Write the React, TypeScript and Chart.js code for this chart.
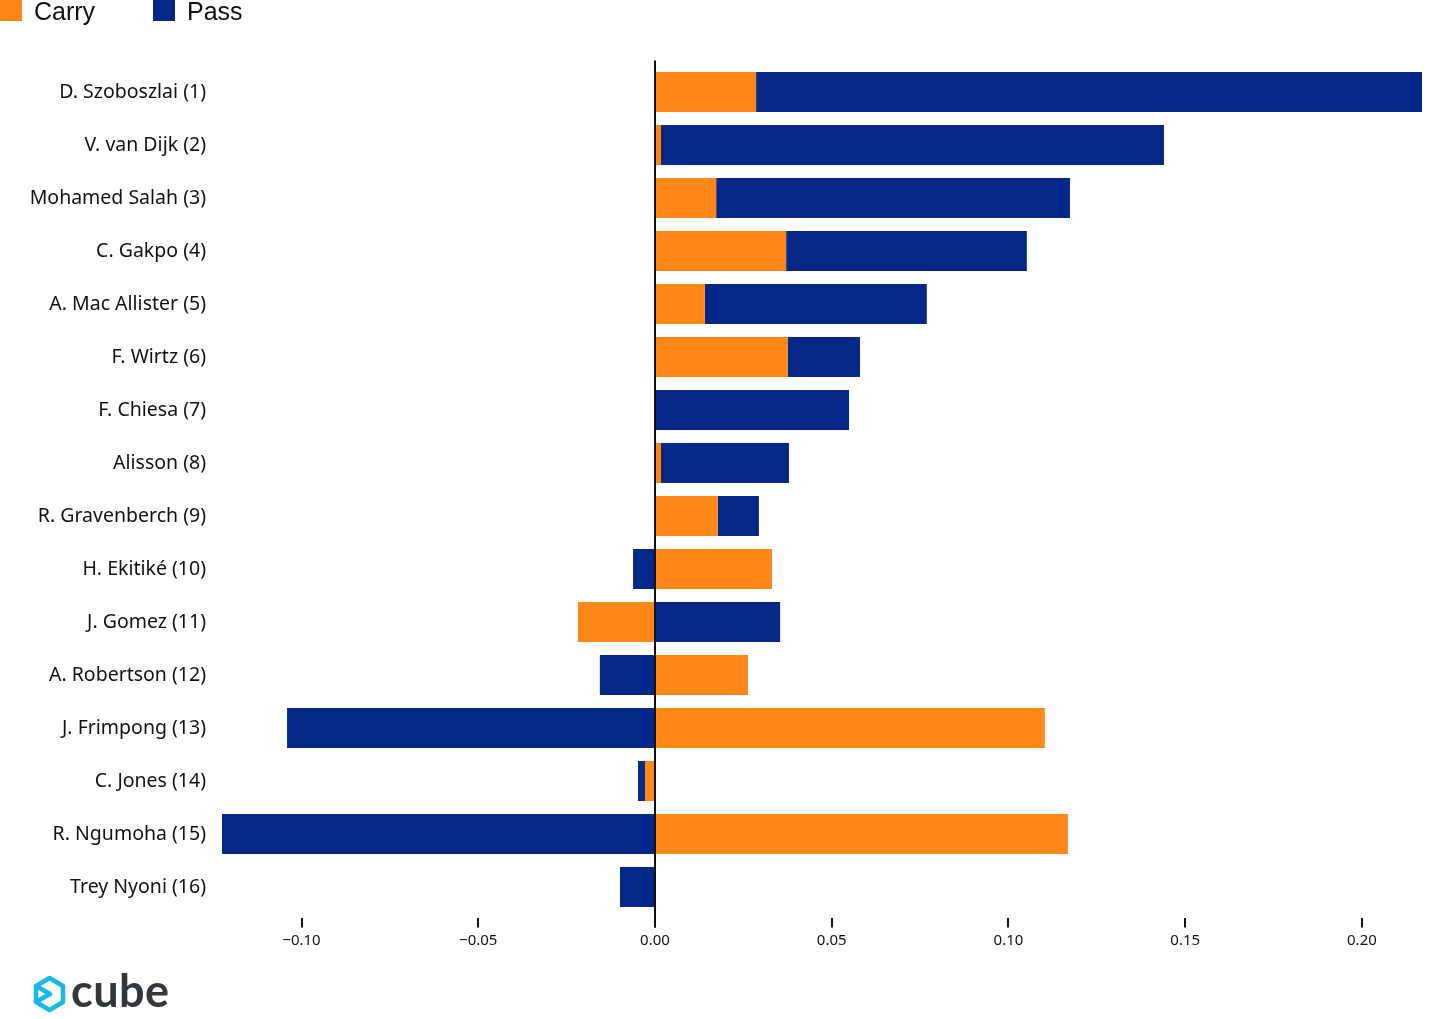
import React, { useEffect, useRef } from "react";
import { Chart, registerables } from "chart.js";

Chart.register(...registerables);

const players = [
  "D. Szoboszlai (1)",
  "V. van Dijk (2)",
  "Mohamed Salah (3)",
  "C. Gakpo (4)",
  "A. Mac Allister (5)",
  "F. Wirtz (6)",
  "F. Chiesa (7)",
  "Alisson (8)",
  "R. Gravenberch (9)",
  "H. Ekitiké (10)",
  "J. Gomez (11)",
  "A. Robertson (12)",
  "J. Frimpong (13)",
  "C. Jones (14)",
  "R. Ngumoha (15)",
  "Trey Nyoni (16)",
];

const carryValues = [
  0.0286, 0.0017, 0.0173, 0.0371, 0.0141, 0.0376, 0.0, 0.0017, 0.0178, 0.0331,
  -0.0218, 0.0263, 0.1103, -0.0028, 0.1168, 0.0,
];

const passValues = [
  0.1884, 0.1423, 0.1001, 0.0681, 0.0628, 0.0204, 0.0549, 0.0362, 0.0116,
  -0.0062, 0.0354, -0.0156, -0.1041, -0.002, -0.1225, -0.0099,
];

const xTicks = [-0.1, -0.05, 0.0, 0.05, 0.1, 0.15, 0.2];

const CARRY_COLOR = "#FF8718";
const PASS_COLOR = "#052788";
const LABEL_FONT = "'Noto Sans', 'Open Sans', sans-serif";

const axisDecor = {
  id: "axisDecor",
  afterDatasetsDraw(chart: any) {
    const ctx = chart.ctx;
    const x = chart.scales.x;
    const area = chart.chartArea;
    ctx.save();
    ctx.strokeStyle = "#111";
    ctx.lineWidth = 2;
    // tick marks below the plot
    xTicks.forEach((v) => {
      const px = Math.round(x.getPixelForValue(v));
      ctx.beginPath();
      ctx.moveTo(px, area.bottom + 4.5);
      ctx.lineTo(px, area.bottom + 14);
      ctx.stroke();
    });
    // zero line
    const zx = Math.round(x.getPixelForValue(0));
    ctx.beginPath();
    ctx.moveTo(zx, area.top - 5);
    ctx.lineTo(zx, area.bottom + 14);
    ctx.stroke();
    ctx.restore();
  },
};

export default function App() {
  const canvasRef = useRef<HTMLCanvasElement | null>(null);

  useEffect(() => {
    document.body.style.margin = "0";
    const canvas = canvasRef.current;
    if (!canvas) return;
    const chart = new Chart(canvas, {
      type: "bar",
      data: {
        labels: players,
        datasets: [
          {
            label: "Carry",
            data: carryValues,
            backgroundColor: CARRY_COLOR,
            borderWidth: 0,
            barPercentage: 0.755,
            categoryPercentage: 1,
          },
          {
            label: "Pass",
            data: passValues,
            backgroundColor: PASS_COLOR,
            borderWidth: 0,
            barPercentage: 0.755,
            categoryPercentage: 1,
          },
        ],
      },
      plugins: [axisDecor],
      options: {
        indexAxis: "y",
        animation: false,
        responsive: false,
        maintainAspectRatio: false,
        devicePixelRatio: 1,
        layout: { padding: { left: 0, right: 34, top: 65.5, bottom: 65.5 } },
        plugins: {
          legend: { display: false },
          tooltip: { enabled: false },
        },
        scales: {
          x: {
            stacked: true,
            min: -0.1225,
            max: 0.217,
            afterFit: (s: any) => {
              s.height = 40;
            },
            afterBuildTicks: (s: any) => {
              s.ticks = xTicks.map((v) => ({ value: v }));
            },
            border: { display: false },
            grid: { display: false, drawTicks: false },
            ticks: {
              color: "#111",
              padding: 18,
              font: { family: LABEL_FONT, size: 15 },
              callback: (v: any) => {
                const n = Number(v);
                const s = Math.abs(n).toFixed(2);
                return n < -1e-9 ? "\u2212" + s : s;
              },
            },
          },
          y: {
            stacked: true,
            afterFit: (s: any) => {
              s.width = 222;
            },
            border: { display: false },
            grid: { display: false, drawTicks: false },
            ticks: {
              color: "#111",
              padding: 16,
              font: { family: LABEL_FONT, size: 19.5 },
            },
          },
        },
      },
    });
    return () => chart.destroy();
  }, []);

  const legendText: React.CSSProperties = {
    position: "absolute",
    top: -4,
    fontFamily: "'Liberation Sans', Arial, sans-serif",
    fontSize: 25,
    color: "#111",
    lineHeight: "30px",
  };

  return (
    <div style={{ position: "fixed", left: 0, top: 0, width: 1456, height: 1019, background: "#fff", overflow: "hidden" }}>
      <canvas ref={canvasRef} width={1456} height={1019} style={{ position: "absolute", left: 0, top: 0, width: 1456, height: 1019 }} />
      <div style={{ position: "absolute", left: 0, top: -1, width: 22, height: 22, background: CARRY_COLOR }} />
      <div style={{ ...legendText, left: 34 }}>Carry</div>
      <div style={{ position: "absolute", left: 153, top: -1, width: 22, height: 22, background: PASS_COLOR }} />
      <div style={{ ...legendText, left: 187 }}>Pass</div>
      <svg style={{ position: "absolute", left: 33, top: 975 }} width={33} height={38} viewBox="0 0 33 38">
        <path
          d="M16.5 3 L30 11 L30 27 L16.5 35 L3 27 L3 11 Z M3 11 L17 19 L3 27"
          fill="none"
          stroke="#18B8E6"
          strokeWidth={4.5}
          strokeLinejoin="round"
        />
      </svg>
      <div
        style={{
          position: "absolute",
          left: 71,
          top: 963,
          fontFamily: "Lato, 'Open Sans', sans-serif",
          fontWeight: 700,
          fontSize: 45,
          color: "#33363A",
          letterSpacing: 0.5,
          lineHeight: "54px",
        }}
      >
        cube
      </div>
    </div>
  );
}
